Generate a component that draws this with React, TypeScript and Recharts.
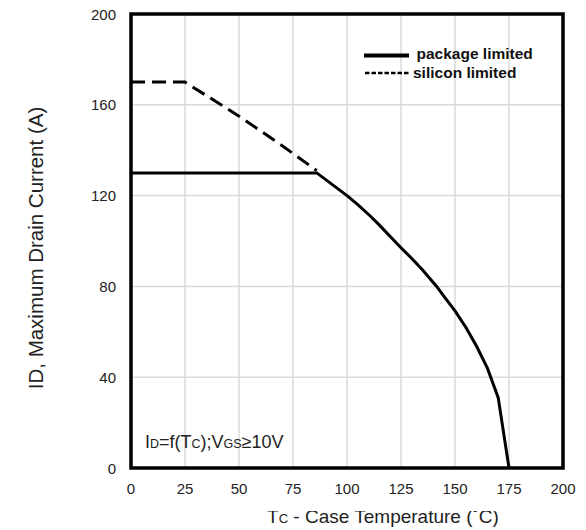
import React from 'react';
import {
  LineChart,
  Line,
  XAxis,
  YAxis,
  CartesianGrid,
  ReferenceArea,
  Customized,
} from 'recharts';

const xTicks = [0, 25, 50, 75, 100, 125, 150, 175, 200];
const yTicks = [0, 40, 80, 120, 160, 200];

const packageTemp = [0, 86, 100, 105, 111, 115, 120, 125, 130, 135, 141.5, 145, 150, 155, 160, 165, 170, 175];
const packageCurrent = [130, 130, 120, 116, 110.8, 107, 102, 97, 92.3, 87.2, 80, 75.5, 69.2, 62, 53.6, 44, 31, 0];

const siliconTemp = [0, 25, 50, 70, 86];
const siliconCurrent = [170, 170, 155, 142, 131];

const packageData = packageTemp.map((t, i) => ({ t, id: packageCurrent[i] }));
const siliconData = siliconTemp.map((t, i) => ({ t, id: siliconCurrent[i] }));

const FONT = '"Liberation Sans", Arial, Helvetica, sans-serif';

const XTick = (props: any) => {
  const { x, y, payload } = props;
  return (
    <text x={x} y={y + 25.5} textAnchor="middle" fontFamily={FONT} fontSize={15} fill="#222">
      {payload.value}
    </text>
  );
};

const YTick = (props: any) => {
  const { x, y, payload } = props;
  return (
    <text x={x - 15} y={y + 5.5} textAnchor="end" fontFamily={FONT} fontSize={15} fill="#222">
      {payload.value}
    </text>
  );
};

const Extras = () => (
  <g fontFamily={FONT}>
    <defs>
      <clipPath id="xtitleclip">
        <rect x={0} y={511} width={586} height={30} />
      </clipPath>
    </defs>
    {/* legend */}
    <line x1={364} x2={409} y1={55.5} y2={55.5} stroke="#000" strokeWidth={4} />
    <text x={416.5} y={59} fontSize={15.5} fontWeight="bold" fill="#111">
      package limited
    </text>
    <line x1={365} x2={409} y1={73} y2={73} stroke="#000" strokeWidth={2.5} strokeDasharray="4.5 2" />
    <text x={413} y={77.5} fontSize={15.5} fontWeight="bold" fill="#111">
      silicon limited
    </text>
    {/* annotation */}
    <text x={145} y={448} fontSize={18} fill="#222">
      I<tspan fontSize={12.5}>D</tspan>=f(T<tspan fontSize={12.5}>C</tspan>);V
      <tspan fontSize={12.5}>GS</tspan>≥10V
    </text>
    {/* y title */}
    <text
      x={0}
      y={0}
      transform="translate(43 248) rotate(-90)"
      textAnchor="middle"
      fontSize={20.5}
      fill="#222"
    >
      ID, Maximum Drain Current (A)
    </text>
    {/* x title */}
    <text x={383} y={522.5} textAnchor="middle" fontSize={19} fill="#222" clipPath="url(#xtitleclip)">
      T<tspan fontSize={13}>C</tspan> - Case Temperature (˚C)
    </text>
  </g>
);

export default function App() {
  return (
    <div style={{ position: 'absolute', left: 0, top: 0, background: '#fff' }}>
      <LineChart
        width={586}
        height={530}
        margin={{ top: 14, right: 23, bottom: 32, left: 0 }}
      >
        <CartesianGrid stroke="#dadada" strokeWidth={1.5} />
        <XAxis
          type="number"
          dataKey="t"
          domain={[0, 200]}
          ticks={xTicks}
          height={30}
          axisLine={false}
          tickLine={false}
          tickSize={0}
          tickMargin={0}
          tick={<XTick />}
          interval={0}
        />
        <YAxis
          type="number"
          dataKey="id"
          domain={[0, 200]}
          ticks={yTicks}
          width={131}
          axisLine={false}
          tickLine={false}
          tickSize={0}
          tickMargin={0}
          tick={<YTick />}
          interval={0}
        />
        <Line
          data={siliconData}
          dataKey="id"
          type="linear"
          stroke="#000"
          strokeWidth={3}
          strokeDasharray="14 7"
          dot={false}
          activeDot={false}
          isAnimationActive={false}
        />
        <Line
          data={packageData}
          dataKey="id"
          type="linear"
          stroke="#000"
          strokeWidth={3}
          dot={false}
          activeDot={false}
          isAnimationActive={false}
        />
        <ReferenceArea
          x1={0}
          x2={200}
          y1={0}
          y2={200}
          fill="#fff"
          fillOpacity={0}
          stroke="#000"
          strokeWidth={3.5}
          ifOverflow="visible"
        />
        <Customized component={Extras} />
      </LineChart>
    </div>
  );
}
